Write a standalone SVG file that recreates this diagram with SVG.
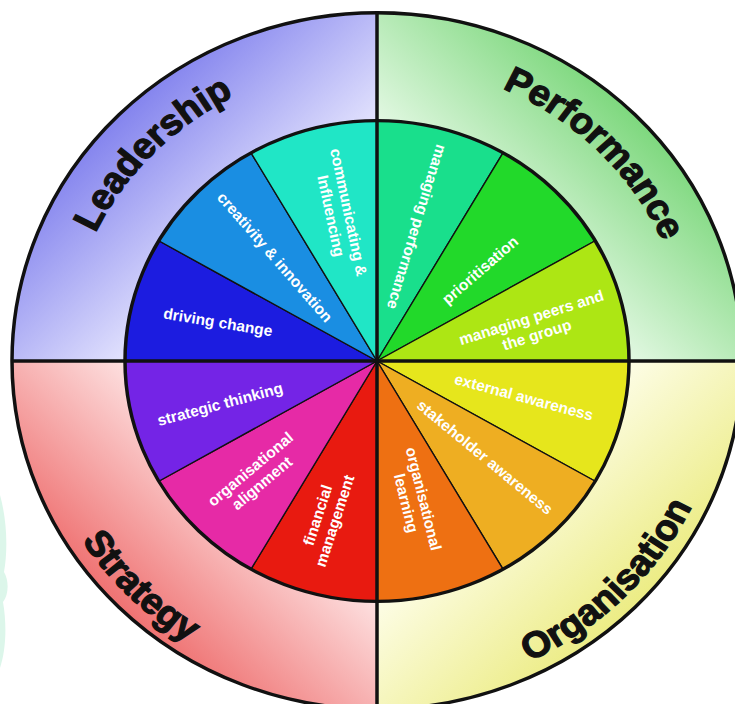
<svg xmlns="http://www.w3.org/2000/svg" width="735" height="704" viewBox="0 0 735 704">
<defs>
<linearGradient id="gL" gradientUnits="userSpaceOnUse" x1="-258" y1="-258" x2="-110" y2="-110"><stop offset="0" stop-color="#8484ee"/><stop offset="1" stop-color="#eeeeff"/></linearGradient>
<linearGradient id="gP" gradientUnits="userSpaceOnUse" x1="258" y1="-258" x2="110" y2="-110"><stop offset="0" stop-color="#7ed87e"/><stop offset="1" stop-color="#effcef"/></linearGradient>
<linearGradient id="gO" gradientUnits="userSpaceOnUse" x1="258" y1="258" x2="110" y2="110"><stop offset="0" stop-color="#ecec84"/><stop offset="1" stop-color="#fffff2"/></linearGradient>
<linearGradient id="gS" gradientUnits="userSpaceOnUse" x1="-258" y1="258" x2="-110" y2="110"><stop offset="0" stop-color="#ef7272"/><stop offset="1" stop-color="#ffeeee"/></linearGradient>
<path id="arcL" d="M -312 0 A 312 312 0 0 1 0 -312"/>
<path id="arcP" d="M 0 -312 A 312 312 0 0 1 312 0"/>
<path id="arcO" d="M 0 350 A 350 350 0 0 0 350 0"/>
<path id="arcS" d="M -350 0 A 350 350 0 0 0 0 350"/>
</defs>
<style>
.slice{stroke:#111;stroke-width:1.4;stroke-linejoin:round}
.cat{font-family:"Liberation Sans",Arial,sans-serif;font-weight:bold;font-size:38px;fill:#111;stroke:#111;stroke-width:1.3}
.lbl{font-family:"Liberation Sans",Arial,sans-serif;font-weight:bold;font-size:15.5px;fill:#fff;text-anchor:middle;dominant-baseline:central}
.bold{fill:none;stroke:#111;stroke-width:3.5}
</style>
<rect width="735" height="704" fill="#fff"/>
<path d="M0 495 C 7 520 8 550 4 572 C 9 580 9 595 3 602 C 7 625 6 650 0 668 Z" fill="#dcf6ea"/>
<g transform="translate(377,361) scale(1,0.954)">
<g id="quadrants">
<path id="q-leadership" d="M0 0 L-365 0 A365 365 0 0 1 0 -365 Z" fill="url(#gL)"/>
<path id="q-performance" d="M0 0 L0 -365 A365 365 0 0 1 365 0 Z" fill="url(#gP)"/>
<path id="q-organisation" d="M0 0 L365 0 A365 365 0 0 1 0 365 Z" fill="url(#gO)"/>
<path id="q-strategy" d="M0 0 L0 365 A365 365 0 0 1 -365 0 Z" fill="url(#gS)"/>
</g>
<g id="slices">
<path id="s-managing-performance" class="slice" fill="#19df8c" d="M0 0 L0 -252 A252 252 0 0 1 126 -218.24 Z"/>
<path id="s-prioritisation" class="slice" fill="#22d92a" d="M0 0 L126 -218.24 A252 252 0 0 1 218.24 -126 Z"/>
<path id="s-managing-peers" class="slice" fill="#ade614" d="M0 0 L218.24 -126 A252 252 0 0 1 252 0 Z"/>
<path id="s-external" class="slice" fill="#e6e61c" d="M0 0 L252 0 A252 252 0 0 1 218.24 126 Z"/>
<path id="s-stakeholder" class="slice" fill="#eeae22" d="M0 0 L218.24 126 A252 252 0 0 1 126 218.24 Z"/>
<path id="s-org-learning" class="slice" fill="#ee7012" d="M0 0 L126 218.24 A252 252 0 0 1 0 252 Z"/>
<path id="s-financial" class="slice" fill="#e81a10" d="M0 0 L0 252 A252 252 0 0 1 -126 218.24 Z"/>
<path id="s-org-alignment" class="slice" fill="#e62aa6" d="M0 0 L-126 218.24 A252 252 0 0 1 -218.24 126 Z"/>
<path id="s-strategic" class="slice" fill="#7424e6" d="M0 0 L-218.24 126 A252 252 0 0 1 -252 0 Z"/>
<path id="s-driving" class="slice" fill="#1c1ce0" d="M0 0 L-252 0 A252 252 0 0 1 -218.24 -126 Z"/>
<path id="s-creativity" class="slice" fill="#1a8ee2" d="M0 0 L-218.24 -126 A252 252 0 0 1 -126 -218.24 Z"/>
<path id="s-communicating" class="slice" fill="#20e6c6" d="M0 0 L-126 -218.24 A252 252 0 0 1 0 -252 Z"/>
</g>
<g id="connectors">
<circle class="bold" r="365"/>
<circle class="bold" r="252" stroke-width="3"/>
<line class="bold" x1="0" y1="-365" x2="0" y2="365"/>
<line class="bold" x1="-365" y1="0" x2="365" y2="0"/>
</g>
<g id="categories">
<text class="cat"><textPath href="#arcL" startOffset="49%" text-anchor="middle">Leadership</textPath></text>
<text class="cat"><textPath href="#arcP" startOffset="50%" text-anchor="middle">Performance</textPath></text>
<text class="cat"><textPath href="#arcO" startOffset="50%" text-anchor="middle">Organisation</textPath></text>
<text class="cat"><textPath href="#arcS" startOffset="50%" text-anchor="middle">Strategy</textPath></text>
</g>
</g>
<g id="labels">
<g id="l-managing-performance" transform="translate(417,227) rotate(107)"><text class="lbl">managing performance</text></g>
<g id="l-prioritisation" transform="translate(480,270) rotate(-41)"><text class="lbl">prioritisation</text></g>
<g id="l-managing-peers" transform="translate(534,326) rotate(-17.5)"><text class="lbl" y="-9">managing peers and</text><text class="lbl" y="9">the group</text></g>
<g id="l-external" transform="translate(524,397) rotate(15)"><text class="lbl">external awareness</text></g>
<g id="l-stakeholder" transform="translate(485,457) rotate(39.5)"><text class="lbl">stakeholder awareness</text></g>
<g id="l-org-learning" transform="translate(415,501) rotate(76)"><text class="lbl" y="-9">organisational</text><text class="lbl" y="9">learning</text></g>
<g id="l-financial" transform="translate(326,518) rotate(-72)"><text class="lbl" y="-9">financial</text><text class="lbl" y="9">management</text></g>
<g id="l-org-alignment" transform="translate(256,476) rotate(-40)"><text class="lbl" y="-9">organisational</text><text class="lbl" y="9">alignment</text></g>
<g id="l-strategic" transform="translate(220,404) rotate(-15)"><text class="lbl">strategic thinking</text></g>
<g id="l-driving" transform="translate(218,322) rotate(9.5)"><text class="lbl">driving change</text></g>
<g id="l-creativity" transform="translate(275,257) rotate(49)"><text class="lbl">creativity &amp; innovation</text></g>
<g id="l-communicating" transform="translate(340,214) rotate(78)"><text class="lbl" y="-9">communicating &amp;</text><text class="lbl" y="9">Influencing</text></g>
</g>
</svg>
